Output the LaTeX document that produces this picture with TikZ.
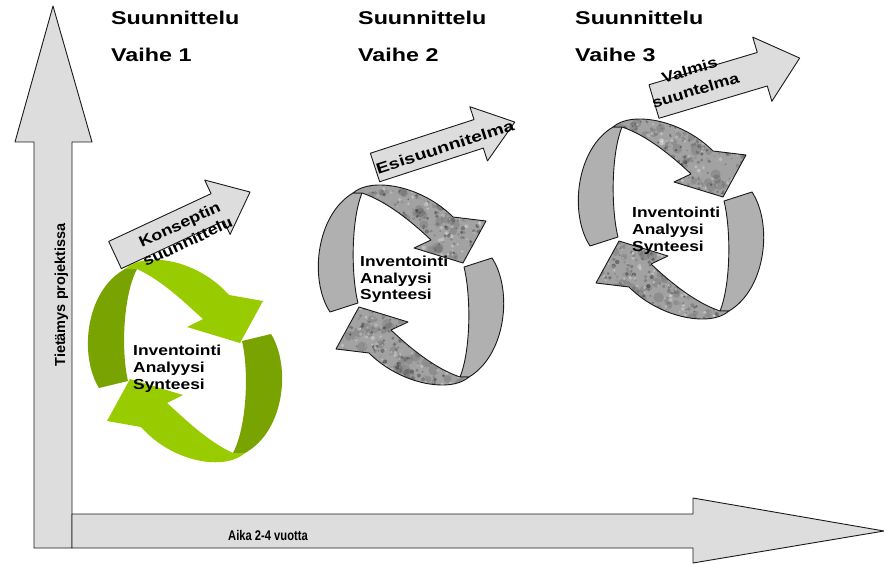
\documentclass[tikz,border=0pt]{standalone}
\usepackage{fontspec}
\setmainfont{Liberation Sans}
\definecolor{axisgray}{HTML}{DDDDDD}
\definecolor{greenlight}{HTML}{99CC00}
\definecolor{greendark}{HTML}{78A300}
\definecolor{bandgray}{HTML}{B0B0B0}
\definecolor{texgray}{HTML}{A2A2A2}
\definecolor{edgecol}{HTML}{1A1A1A}
\def\leftband{(-58,-92) .. controls (-95,-70) and (-102,-5) .. (-81,27) -- (-53,18) .. controls (-60,-10) and (-60,-65) .. (-49,-92) -- cycle}
\def\toparc{(-58,-92) .. controls (-40,-108) and (10,-100) .. (42,-68) -- (75,-64) -- (52,-22) -- (3,-37) -- (20,-45) .. controls (0,-64) and (-25,-84) .. (-49,-92) -- cycle}
\def\leftbandG{(-60,-92) .. controls (-100,-70) and (-106,-5) .. (-86,27) -- (-57,20) .. controls (-64,-10) and (-62,-65) .. (-48,-92) -- cycle}
\def\toparcG{(-60,-92) .. controls (-40,-110) and (12,-102) .. (44,-66) -- (78,-60) -- (55,-18) -- (2,-34) -- (18,-42) .. controls (0,-58) and (-22,-80) .. (-48,-92) -- cycle}
\tikzset{
  outline/.style={draw=edgecol, line width=0.9pt, line join=round},
  headtxt/.style={font=\bfseries\fontsize{18.5}{20}\selectfont, anchor=base west, inner sep=0pt},
  cyctxt/.style={font=\bfseries\fontsize{14.5}{16}\selectfont, anchor=base west, inner sep=0pt},
  arrtxt/.style={font=\bfseries\fontsize{15}{18}\selectfont, align=center, inner sep=0pt},
}
\newcommand\texarc[1]{%
  \begin{scope}[#1]
    \begin{scope}
      \clip \toparc;
      \fill[texgray] (-70,-115) rectangle (85,-15);
      \foreach \k in {1,...,80}{%
        \pgfmathsetmacro\txX{-62+145*rnd}%
        \pgfmathsetmacro\txY{-110+92*rnd}%
        \pgfmathsetmacro\txR{2.5+3*rnd}%
        \fill[black, opacity=0.12] (\txX,\txY) circle (\txR);
      }
      \foreach \k in {1,...,420}{%
        \pgfmathsetmacro\txX{-62+145*rnd}%
        \pgfmathsetmacro\txY{-110+92*rnd}%
        \pgfmathtruncatemacro\txG{30+60*rnd}%
        \pgfmathsetmacro\txR{0.7+1.5*rnd}%
        \fill[black!\txG!white, opacity=0.45] (\txX,\txY) circle (\txR);
      }
      \foreach \k in {1,...,140}{%
        \pgfmathsetmacro\txX{-62+145*rnd}%
        \pgfmathsetmacro\txY{-110+92*rnd}%
        \pgfmathsetmacro\txR{0.8+1.4*rnd}%
        \fill[white, opacity=0.3] (\txX,\txY) circle (\txR);
      }
    \end{scope}
    \draw[outline] \toparc;
  \end{scope}}
\newcommand\graycycle[1]{%
  \begin{scope}[shift={#1}]
    \filldraw[fill=bandgray, outline] \leftband;
    \filldraw[fill=bandgray, outline, rotate=180] \leftband;
    \texarc{}
    \texarc{rotate=180}
  \end{scope}}
\newcommand\blockarrow[6]{%
  \filldraw[fill=axisgray, outline, shift={#1}, rotate=#2]
    (0,{-#4/2}) -- ({#3-#6},{-#4/2}) -- ({#3-#6},{-#5/2}) -- (#3,0)
    -- ({#3-#6},{#5/2}) -- ({#3-#6},{#4/2}) -- (0,{#4/2}) -- cycle;}
\begin{document}
\begin{tikzpicture}[x=1pt,y=-1pt]
\useasboundingbox (0,0) rectangle (884,564);
\pgfmathsetseed{1234}
% axes
\filldraw[fill=axisgray, outline] (34,548) -- (34,142) -- (15,142) -- (53,6) -- (92,142) -- (72,142) -- (72,548) -- cycle;
\filldraw[fill=axisgray, outline] (72,514) -- (693,514) -- (693,498) -- (884,531) -- (693,563) -- (693,548) -- (72,548) -- cycle;
\node[font=\bfseries\fontsize{14.5}{16}\selectfont, rotate=90, anchor=base, inner sep=0pt] (tp) at (65,295) {Tietämys projektissa};
\node[font=\bfseries\fontsize{14}{16}\selectfont, anchor=base, inner sep=0pt] (aika) at (268,540) {\scalebox{0.8}[1]{Aika 2-4 vuotta}};
% headings
\node[headtxt] (s1) at (111,25) {\scalebox{1.26}[1]{Suunnittelu}};
\node[headtxt] (v1) at (111,62) {\scalebox{1.26}[1]{Vaihe 1}};
\node[headtxt] (s2) at (358,25) {\scalebox{1.26}[1]{Suunnittelu}};
\node[headtxt] (v2) at (358,62) {\scalebox{1.26}[1]{Vaihe 2}};
\node[headtxt] (s3) at (575,25) {\scalebox{1.26}[1]{Suunnittelu}};
\node[headtxt] (v3) at (575,62) {\scalebox{1.26}[1]{Vaihe 3}};
% green cycle
\begin{scope}[shift={(185,361)}]
  \fill[greendark] \leftbandG;
  \fill[greendark, rotate=180] \leftbandG;
  \fill[greenlight] \toparcG;
  \fill[greenlight, rotate=180] \toparcG;
\end{scope}
% gray cycles
\graycycle{(411,285)}
\graycycle{(671,219)}
% block arrows
\blockarrow{(115,255)}{25}{149}{30}{60}{36}
\blockarrow{(375,167.5)}{18}{147}{30}{57}{38}
\blockarrow{(654,101.5)}{16.6}{152}{35}{67}{39}
\node[arrtxt, rotate=25] (k1) at (183.5,233) {\scalebox{1.2}[1]{Konseptin}\\[1pt]\scalebox{1.2}[1]{suunnittelu}};
\node[arrtxt, rotate=18] (k2) at (445,147) {\scalebox{1.3}[1]{Esisuunnitelma}};
\node[arrtxt, rotate=16.6] (k3) at (692.5,80) {\scalebox{1.2}[1]{Valmis}\\[3pt]\scalebox{1.2}[1]{suuntelma}};
% cycle texts
\node[cyctxt] (c1a) at (133,355) {\scalebox{1.2}[1]{Inventointi}};
\node[cyctxt] (c1b) at (133,372) {\scalebox{1.2}[1]{Analyysi}};
\node[cyctxt] (c1c) at (133,389) {\scalebox{1.2}[1]{Synteesi}};
\node[cyctxt] (c2a) at (360,267) {\scalebox{1.2}[1]{Inventointi}};
\node[cyctxt] (c2b) at (360,283.5) {\scalebox{1.2}[1]{Analyysi}};
\node[cyctxt] (c2c) at (360,300) {\scalebox{1.2}[1]{Synteesi}};
\node[cyctxt] (c3a) at (632,218) {\scalebox{1.2}[1]{Inventointi}};
\node[cyctxt] (c3b) at (632,235) {\scalebox{1.2}[1]{Analyysi}};
\node[cyctxt] (c3c) at (632,252) {\scalebox{1.2}[1]{Synteesi}};
\end{tikzpicture}
\end{document}
